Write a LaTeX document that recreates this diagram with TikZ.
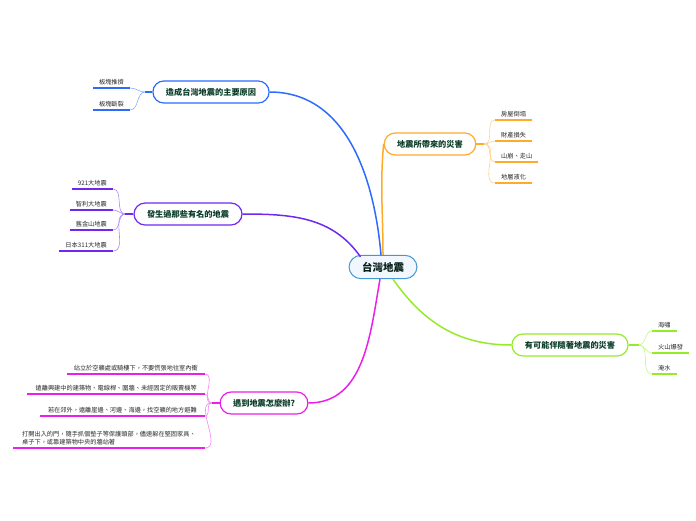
\documentclass[tikz,border=0pt]{standalone}
\usepackage{fontspec}
\setmainfont{Noto Sans CJK TC}
\definecolor{causeblue}{RGB}{43,108,255}
\definecolor{damageorange}{RGB}{255,170,40}
\definecolor{famouspurple}{RGB}{110,40,240}
\definecolor{relatedgreen}{RGB}{150,235,40}
\definecolor{todomagenta}{RGB}{235,30,235}
\definecolor{centerblue}{RGB}{70,150,210}
\definecolor{centerfill}{RGB}{240,247,255}
\definecolor{nodetext}{RGB}{10,60,40}
\definecolor{leaftext}{RGB}{40,40,40}

\begin{document}
\begin{tikzpicture}[x=1pt, y=-1pt,
  centre/.style={draw=centerblue, fill=centerfill, rounded corners=12pt, line width=1pt,
    text=nodetext!50!black, font=\fontsize{10.5}{12}\selectfont\bfseries, inner xsep=13pt, inner ysep=6.5pt},
  topic/.style={draw=#1, fill=white, rounded corners=11pt, line width=1.2pt,
    text=nodetext, font=\fontsize{8.2}{10}\selectfont\bfseries, inner xsep=13pt, inner ysep=7pt},
  leaf/.style={text=leaftext, font=\fontsize{6.2}{8}\selectfont, inner xsep=6pt, inner ysep=2.5pt, align=left},
  mainline/.style={draw=#1, line width=1.5pt},
  twig/.style={draw=#1!55, line width=0.6pt},
  underline/.style={draw=#1, line width=1.5pt}
]
\useasboundingbox (0,0) rectangle (696,520);

% Nodes
\node[centre] (quake) at (383,267) {台灣地震};

\node[topic=causeblue] (cause) at (211,92) {造成台灣地震的主要原因};
\node[topic=damageorange] (damage) at (430,144) {地震所帶來的災害};
\node[topic=famouspurple] (famous) at (188,214) {發生過那些有名的地震};
\node[topic=relatedgreen] (related) at (570,345) {有可能伴隨著地震的災害};
\node[topic=todomagenta] (todo) at (264,403) {遇到地震怎麼辦?};

% Leaves
\node[leaf, anchor=south east] (cause1) at (130,88) {板塊推擠};
\node[leaf, anchor=south east] (cause2) at (130,110) {板塊斷裂};

\node[leaf, anchor=south west] (damage1) at (495,120) {房屋倒塌};
\node[leaf, anchor=south west] (damage2) at (495,141) {財產損失};
\node[leaf, anchor=south west] (damage3) at (495,162) {山崩、走山};
\node[leaf, anchor=south west] (damage4) at (495,183) {地層液化};

\node[leaf, anchor=south east] (famous1) at (113,189) {921大地震};
\node[leaf, anchor=south east] (famous2) at (113,210) {智利大地震};
\node[leaf, anchor=south east] (famous3) at (113,230) {舊金山地震};
\node[leaf, anchor=south east] (famous4) at (113,251) {日本311大地震};

\node[leaf, anchor=south west] (related1) at (652,331) {海嘯};
\node[leaf, anchor=south west] (related2) at (652,353) {火山爆發};
\node[leaf, anchor=south west] (related3) at (652,374) {淹水};

\node[leaf, anchor=south east, inner xsep=7pt] (todo1) at (205,374) {站立於空曠處或騎樓下，不要慌張地往室內衝};
\node[leaf, anchor=south east, inner xsep=8pt] (todo2) at (205,394) {遠離興建中的建築物、電線桿、圍牆、未經固定的販賣機等};
\node[leaf, anchor=south east, inner xsep=8pt] (todo3) at (205,416) {若在郊外，遠離崖邊、河邊、海邊，找空曠的地方避難};
\node[leaf, anchor=south east, inner xsep=9pt] (todo4) at (205,448) {打開出入的門，隨手抓個墊子等保護頭部，儘速躲在堅固家具、\\桌子下，或靠建築物中央的牆站著};

% Main branches
\draw[mainline=causeblue] (quake.north) ++(-2,0) to[out=95,in=0] (cause.east);
\draw[mainline=damageorange] (quake.north) to[out=90,in=-95] (damage.west);
\draw[mainline=famouspurple] (quake.north west) ++(12,2) to[out=125,in=0] (famous.east);
\draw[mainline=relatedgreen] (quake.south) ++(10,0) to[out=-55,in=180] (related.west);
\draw[mainline=todomagenta] (quake.south) ++(-3,0) to[out=-100,in=0] (todo.east);

% Twigs
\foreach \n in {cause1,cause2} {
  \draw[twig=causeblue] (cause.west) -- ++(-7,0) to[out=180,in=0] (\n.south east);
  \draw[underline=causeblue] (\n.south west) -- (\n.south east);
}
\draw[underline=causeblue] (cause.west) -- ++(-7,0);

\foreach \n in {damage1,damage2,damage3,damage4} {
  \draw[twig=damageorange] (damage.east) -- ++(8,0) to[out=0,in=180] (\n.south west);
  \draw[underline=damageorange] (\n.south west) -- (\n.south east);
}
\draw[underline=damageorange] (damage.east) -- ++(8,0);

\foreach \n in {famous1,famous2,famous3,famous4} {
  \draw[twig=famouspurple] (famous.west) -- ++(-8,0) to[out=180,in=0] (\n.south east);
  \draw[underline=famouspurple] (\n.south west) -- (\n.south east);
}
\draw[underline=famouspurple] (famous.west) -- ++(-8,0);

\foreach \n in {related1,related2,related3} {
  \draw[twig=relatedgreen] (related.east) -- ++(10,0) to[out=0,in=180] (\n.south west);
  \draw[underline=relatedgreen] (\n.south west) -- (\n.south east);
}
\draw[underline=relatedgreen] (related.east) -- ++(10,0);

\foreach \n in {todo1,todo2,todo3,todo4} {
  \draw[twig=todomagenta] (todo.west) -- ++(-8,0) to[out=180,in=0] (\n.south east);
  \draw[underline=todomagenta] (\n.south west) -- (\n.south east);
}
\draw[underline=todomagenta] (todo.west) -- ++(-8,0);

\end{tikzpicture}
\end{document}
